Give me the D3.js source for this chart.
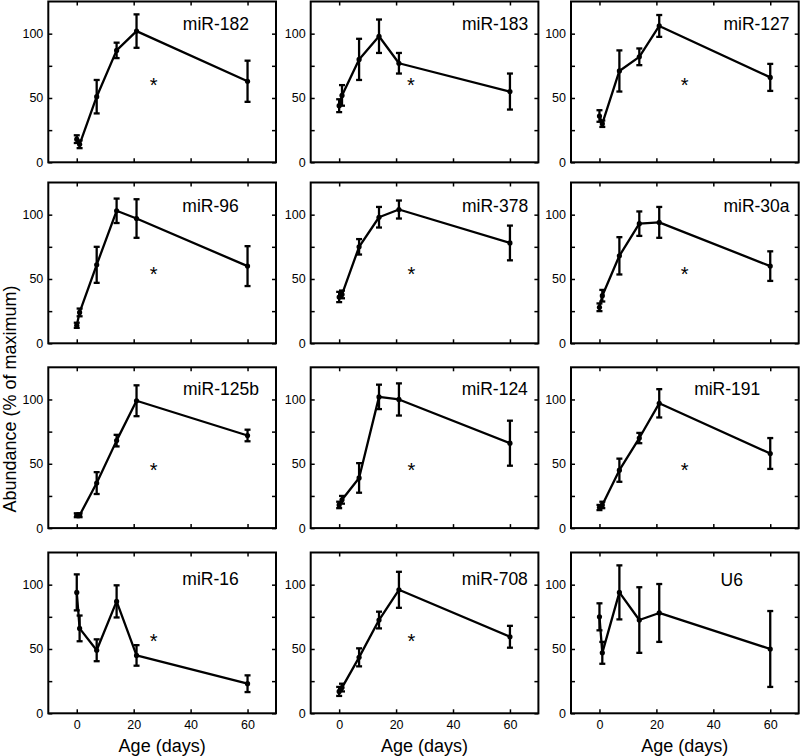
<!DOCTYPE html>
<html>
<head>
<meta charset="utf-8">
<script src="https://cdn.jsdelivr.net/npm/d3@7"></script>
<style>
  html, body { margin: 0; padding: 0; background: #fff; }
  svg { display: block; font-family: "Liberation Sans", Arial, Helvetica, sans-serif; }
</style>
</head>
<body>
<svg id="chart" width="800" height="756"></svg>
<script>
// ---- data ----
const days = [0, 1, 7, 14, 21, 60];
const labels = ["miR-182", "miR-183", "miR-127",
                "miR-96", "miR-378", "miR-30a",
                "miR-125b", "miR-124", "miR-191",
                "miR-16", "miR-708", "U6"];
const means = [
  [18, 14, 51, 87, 102, 63],
  [44, 52, 80, 98, 77, 55],
  [36, 30, 71, 82, 106, 66],
  [14, 24, 61, 103, 97, 60],
  [36, 38, 75, 98, 104, 78],
  [28, 37, 68, 93, 94, 60],
  [10, 10, 35, 68, 99, 72],
  [18, 22, 39, 102, 100, 66],
  [16, 18, 45, 70, 97, 58],
  [94, 66, 49, 87, 45, 23],
  [17, 20, 43.5, 72.5, 96, 59.5],
  [75, 47, 94, 72.5, 78, 50]
];
const errors = [
  [3, 3, 13, 6, 13, 16],
  [5, 8, 16, 13, 8, 14],
  [4.5, 2.5, 16, 6.5, 8.5, 10.5],
  [2, 3, 14, 9.5, 15, 15.5],
  [4, 3, 6, 8, 7, 13.5],
  [3, 4.5, 14.5, 9.5, 12, 11.5],
  [1.5, 1.5, 8.5, 4.5, 12, 4.5],
  [2.5, 3, 11.5, 9.5, 12.5, 17.5],
  [2, 2.5, 9, 4, 11, 12],
  [14, 10, 8.5, 12.5, 8, 6.5],
  [3.5, 3, 7, 6.5, 14, 8.5],
  [10.5, 8.5, 21, 25.5, 22.5, 29.5]
];
// asterisk marks (day, value); null = none
const starX = [27, 25.2, 29.9, 27, 25.4, 29.9, 27, 25.4, 29.9, 27, 25.4, null];
const starY = [63, 63, 63, 57, 57, 57, 48, 48, 48, 59, 59, null];
const xTicks = [0, 20, 40, 60];
const yTicks = [0, 25, 50, 75, 100];
const yLabelled = [0, 50, 100];
const xLabel = "Age (days)";
const yLabel = "Abundance (% of maximum)";

// ---- layout ----
const colLeft = [48.3, 310.7, 571];
const rowTop = [1.5, 182.5, 367.3, 552.5];
const W = 227.7, H = 160.8;
// label anchor (right edge, in days) and baseline (in value units)
const labelRight = [60.5, 66.4, 66.8, 56.9, 66.4, 66.8, 64, 66.3, 56.5, 56.9, 66.3, 50.4];
const labelBase = [103, 103, 103, 102, 102, 102, 103.5, 103.5, 103.5, 100, 100, 99];

const svg = d3.select("#chart");
const x = d3.scaleLinear().domain([-10, 70]).range([0, W]);
const y = d3.scaleLinear().domain([0, 125]).range([H, 0]);

labels.forEach((name, i) => {
  const r = Math.floor(i / 3), c = i % 3;
  const g = svg.append("g").attr("transform", `translate(${colLeft[c]},${rowTop[r]})`);
  const pts = days.map((d, k) => ({ d, m: means[i][k], e: errors[i][k] }));

  // axes with inward ticks
  const bottom = d3.axisBottom(x).tickValues(xTicks).tickSize(-4).tickPadding(7)
    .tickFormat(r === 3 ? d3.format("d") : () => "");
  const top = d3.axisTop(x).tickValues(xTicks).tickSize(-4).tickFormat(() => "");
  const left = d3.axisLeft(y).tickValues(yTicks).tickSize(-4).tickPadding(5)
    .tickFormat(v => yLabelled.includes(v) ? v : "");
  const right = d3.axisRight(y).tickValues(yTicks).tickSize(-4).tickFormat(() => "");

  [[bottom, `translate(0,${H})`], [top, null], [left, null], [right, `translate(${W},0)`]]
    .forEach(([ax, tr]) => {
      const a = g.append("g").call(ax);
      if (tr) a.attr("transform", tr);
      a.select(".domain").remove();
      a.selectAll("line").attr("stroke", "#000").attr("stroke-width", 1.5);
      a.selectAll("text").attr("fill", "#000").attr("font-size", 12.5)
        .attr("font-family", '"Liberation Sans", Arial, sans-serif');
    });

  // frame
  g.append("rect").attr("x", 0).attr("y", 0).attr("width", W).attr("height", H)
    .attr("fill", "none").attr("stroke", "#000").attr("stroke-width", 2);

  // error bars
  const eb = g.append("g").attr("stroke", "#000").attr("stroke-width", 2.3);
  pts.forEach(p => {
    const px = x(p.d), y1 = y(p.m + p.e), y0 = y(p.m - p.e);
    eb.append("line").attr("x1", px).attr("x2", px).attr("y1", y1).attr("y2", y0);
    eb.append("line").attr("x1", px - 3).attr("x2", px + 3).attr("y1", y1).attr("y2", y1);
    eb.append("line").attr("x1", px - 3).attr("x2", px + 3).attr("y1", y0).attr("y2", y0);
  });

  // line
  const line = d3.line().x(p => x(p.d)).y(p => y(p.m));
  g.append("path").datum(pts).attr("d", line).attr("fill", "none")
    .attr("stroke", "#000").attr("stroke-width", 2.3).attr("stroke-linejoin", "round");

  // markers
  g.selectAll("circle.pt").data(pts).join("circle").attr("class", "pt")
    .attr("cx", p => x(p.d)).attr("cy", p => y(p.m)).attr("r", 2.6).attr("fill", "#000");

  // label
  g.append("text").attr("x", x(labelRight[i])).attr("y", y(labelBase[i]))
    .attr("text-anchor", "end").attr("font-size", 17.5).attr("fill", "#000").text(name);

  // asterisk
  if (starX[i] !== null) {
    g.append("text").attr("x", x(starX[i])).attr("y", y(starY[i]) + 11)
      .attr("text-anchor", "middle").attr("font-size", 20).attr("fill", "#000").text("*");
  }

  // x-axis title under bottom row
  if (r === 3) {
    g.append("text").attr("x", W / 2).attr("y", H + 38.5).attr("text-anchor", "middle")
      .attr("font-size", 18).attr("fill", "#000").text(xLabel);
  }
});

// y-axis title
svg.append("text").attr("transform", "translate(16,399) rotate(-90)")
  .attr("text-anchor", "middle").attr("font-size", 18).attr("fill", "#000").text(yLabel);
</script>
</body>
</html>
